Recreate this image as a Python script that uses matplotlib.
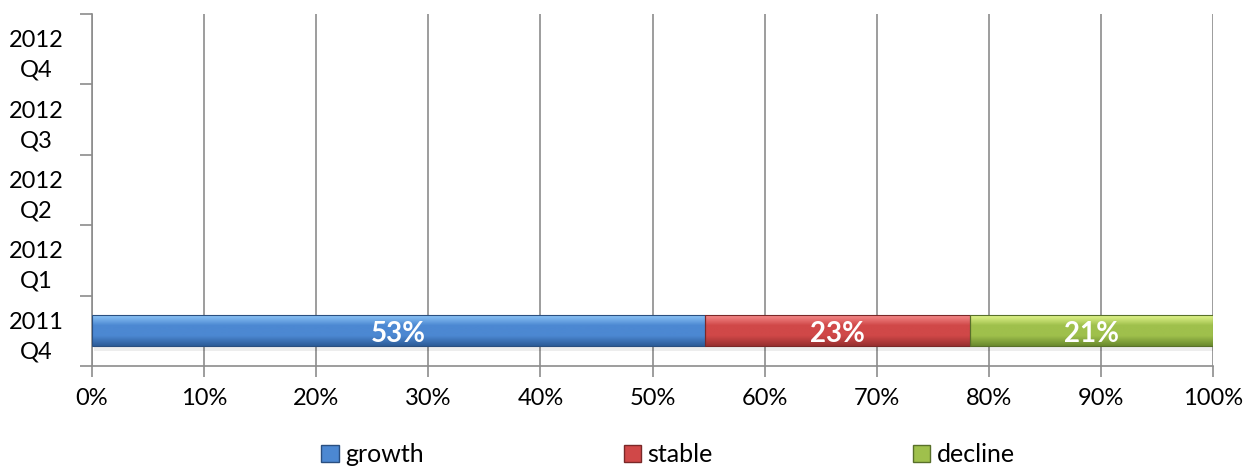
import numpy as np
import matplotlib
matplotlib.use("Agg")
import matplotlib.pyplot as plt
from matplotlib.colors import LinearSegmentedColormap
from matplotlib.patches import Rectangle

plt.rcParams['font.family'] = ['Lato', 'DejaVu Sans']

quarters = ['2011\nQ4', '2012\nQ1', '2012\nQ2', '2012\nQ3', '2012\nQ4']
series = ['growth', 'stable', 'decline']
growth = [53, 0, 0, 0, 0]
stable = [23, 0, 0, 0, 0]
decline = [21, 0, 0, 0, 0]

# light / mid / dark shades for the glossy fill
shades = {
    'growth': ('#8cc4f6', '#4c88d2', '#2d5c98'),
    'stable': ('#f58a8a', '#d04848', '#983030'),
    'decline': ('#e2f58c', '#9fc04c', '#6a8a2e'),
}
edges = {'growth': '#2a4f80', 'stable': '#7a2828', 'decline': '#58702a'}

vals = np.array([growth, stable, decline], dtype=float)
tot = vals.sum(axis=0)
share = np.divide(vals * 100, tot, out=np.zeros_like(vals), where=tot > 0)

fig = plt.figure(figsize=(12.46, 4.68), dpi=100)
ax = fig.add_axes([92 / 1246, 1 - 366 / 468, (1213 - 92) / 1246, (366 - 14) / 468])

y = np.arange(len(quarters))
h = 0.44
left = np.zeros(len(quarters))
for i, name in enumerate(series):
    bars = ax.barh(y, share[i], left=left, height=h, color=shades[name][1],
                   edgecolor='none', linewidth=0, zorder=3)
    cmap = LinearSegmentedColormap.from_list(name, [shades[name][0], shades[name][1],
                                                    shades[name][1], shades[name][2]])
    grad = np.linspace(0, 1, 64).reshape(-1, 1)
    for b, v, raw in zip(bars, share[i], vals[i]):
        if v <= 0:
            continue
        x0, y0 = b.get_x(), b.get_y()
        im = ax.imshow(grad, cmap=cmap, aspect='auto', origin='upper',
                       extent=(x0, x0 + b.get_width(), y0, y0 + b.get_height()), zorder=3.5)
        im.set_clip_path(b)
        ax.add_patch(Rectangle((x0, y0), b.get_width(), b.get_height(), fill=False,
                               edgecolor=edges[name], linewidth=0.8, zorder=3.6))
        # soft shadow beneath the bar
        ax.add_patch(Rectangle((x0 + 0.2, y0 - 0.06), b.get_width(), 0.06,
                               facecolor='#000000', alpha=0.07, edgecolor='none', zorder=2.5))
        ax.text(x0 + v / 2, y0 + b.get_height() / 2 - 0.05, f'{raw:.0f}%', color='white',
                fontsize=20, fontweight='bold', ha='center', va='center', zorder=5)
    left += share[i]

ax.set_xlim(0, 100)
ax.set_ylim(-0.5, len(quarters) - 0.5)
ax.set_xticks(np.arange(0, 101, 10))
ax.set_xticklabels([f'{t}%' for t in range(0, 101, 10)], fontsize=17)
ax.set_yticks(y)
ax.set_yticklabels(quarters, fontsize=17, ha='center', linespacing=1.5)
ax.set_yticks(np.arange(-0.5, len(quarters), 1), minor=True)
ax.tick_params(axis='y', which='major', length=0, pad=40)
ax.tick_params(axis='y', which='minor', length=9, width=1.2, color='#8c8c8c')
ax.tick_params(axis='x', length=8, width=1.2, color='#8c8c8c', pad=8)
ax.grid(axis='x', color='#8c8c8c', linewidth=1.2, zorder=0)
for s in ['top', 'right']:
    ax.spines[s].set_visible(False)
for s in ['left', 'bottom']:
    ax.spines[s].set_color('#8c8c8c')
    ax.spines[s].set_linewidth(1.2)

handles = [Rectangle((0, 0), 1, 1, facecolor=shades[n][1], edgecolor=edges[n]) for n in series]
fig.legend(handles, series, loc='center', bbox_to_anchor=(0.536, 0.028), ncol=3,
           frameon=False, fontsize=18, handlelength=0.7, handleheight=0.7,
           handletextpad=0.25, columnspacing=8.0, borderpad=0)

fig.savefig('out.png', dpi=100)
